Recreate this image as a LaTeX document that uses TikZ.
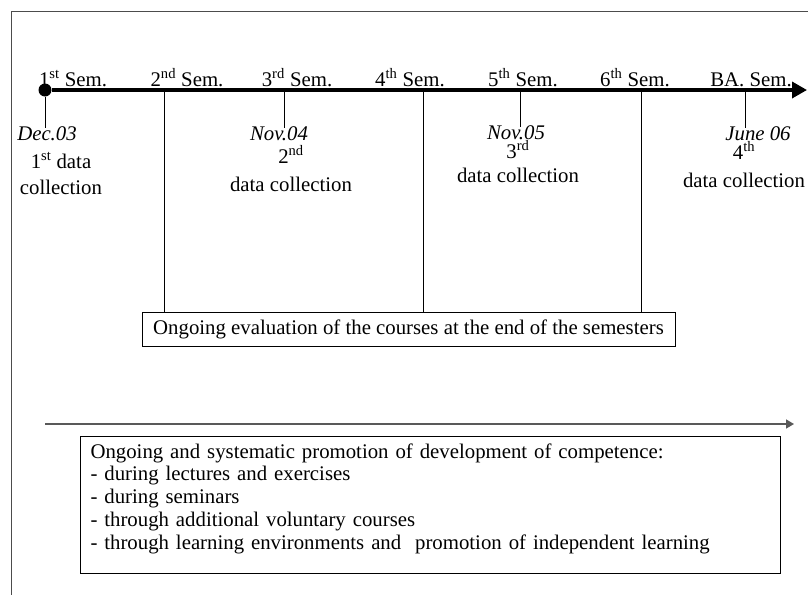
\documentclass[tikz,border=0pt]{standalone}
\usepackage{fontspec}
\setmainfont{Liberation Serif}
\usetikzlibrary{arrows.meta}

\begin{document}
\begin{tikzpicture}[x=1pt,y=-1pt,
  font=\fontsize{20.8}{23}\selectfont,
  semlabel/.style={inner sep=0pt,anchor=base},
  datelabel/.style={inner sep=0pt,anchor=base,font=\fontsize{20.8}{23}\selectfont\itshape,text height=12pt,text depth=0pt},
  colllabel/.style={inner sep=0pt,anchor=base,align=center},
  dot/.style={circle,fill=black,inner sep=0pt,minimum size=13pt},
  timeline/.style={line width=3.5pt,-{Triangle[length=15pt,width=16pt]}},
  tick/.style={line width=0.9pt},
  textbox/.style={draw,line width=1pt},
]
\useasboundingbox (0,0) rectangle (808,595);
\draw[black!70,line width=1pt] (808,11) -| (11,595);

% semesters along the time axis
\foreach \lab/\x [count=\i] in {1\textsuperscript{st} Sem./73, 2\textsuperscript{nd} Sem./187,
    3\textsuperscript{rd} Sem./297, 4\textsuperscript{th} Sem./410, 5\textsuperscript{th} Sem./523,
    6\textsuperscript{th} Sem./635, BA. Sem./751}
  \node[semlabel] (sem\i) at (\x,86) {\lab};

\node[dot] (start) at (45,90) {};
\coordinate (tlend) at (807,90);
\draw[timeline] (start) -- (tlend);

% data collections
\node[datelabel] (d1) at (47,140) {Dec.03};
\node[datelabel] (d2) at (279,140) {Nov.04};
\node[datelabel] (d3) at (516,139) {Nov.05};
\node[datelabel] (d4) at (758,140) {June 06};
\coordinate (c2) at (284,90);
\coordinate (c3) at (520,90);
\coordinate (c4) at (745,90);
\draw[tick] (start) -- (start |- d1.north);
\foreach \i in {2,3,4}
  \draw[tick] (c\i) -- (c\i |- d\i.north);

\node[colllabel] (n1) at (61,194) {1\textsuperscript{st} data\\[3pt]collection};
\node[colllabel] (n2) at (291,191) {2\textsuperscript{nd}\\[5pt]data collection};
\node[colllabel] (n3) at (518,182) {3\textsuperscript{rd}\\[1pt]data collection};
\node[colllabel] (n4) at (744,187) {4\textsuperscript{th}\\[5pt]data collection};

% evaluation at the end of the semesters
\node[textbox,minimum width=533pt,minimum height=34pt] (eval) at (408.5,329)
  {Ongoing evaluation of the courses at the end of the semesters};
\coordinate (e2) at (164,90);
\coordinate (e4) at (423,90);
\coordinate (e6) at (641,90);
\foreach \i in {2,4,6}
  \draw[tick] (e\i) -- (e\i |- eval.north);

% promotion of competence
\coordinate (pa) at (45,424);
\coordinate (pb) at (794,424);
\draw[black!65,line width=1.5pt,-{Triangle[length=8pt,width=9pt]}] (pa) -- (pb);
\node[textbox,text width=680pt,inner xsep=10pt,inner ysep=7pt,text depth=108pt,
  anchor=north west,align=left,font=\fontsize{20.8}{22.75}\selectfont] (promo) at (80,436)
  {Ongoing and systematic promotion of development of competence:\\
   - during lectures and exercises\\
   - during seminars\\
   - through additional voluntary courses\\
   - through learning environments and \ promotion of independent learning};
\end{tikzpicture}
\end{document}
